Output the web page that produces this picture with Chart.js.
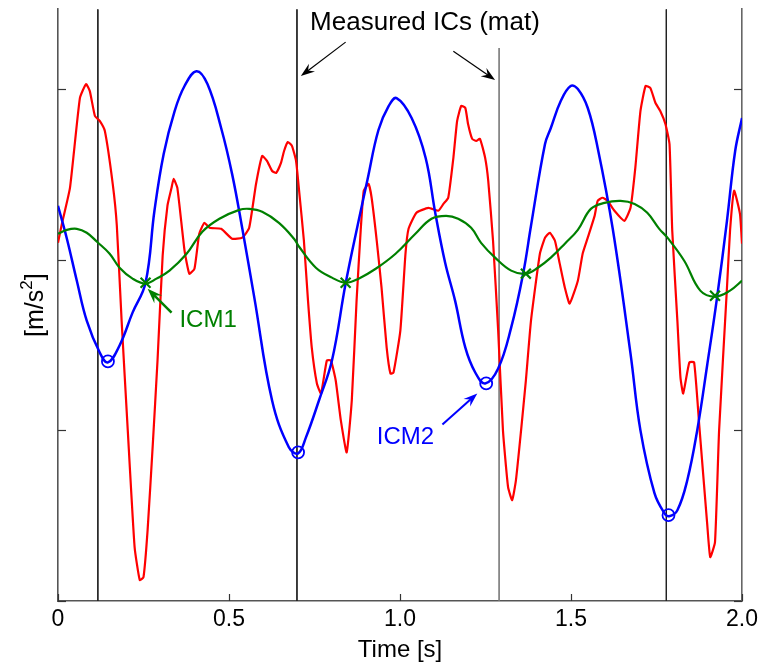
<!DOCTYPE html>
<html>
<head>
<meta charset="utf-8">
<script src="https://cdn.jsdelivr.net/npm/chart.js@4.4.1/dist/chart.umd.min.js"></script>
<style>
  html, body { margin: 0; padding: 0; background: #ffffff; }
  #c { display: block; }
</style>
</head>
<body>
<canvas id="c" width="763" height="666"></canvas>
<script>
// ---------- data (time [s], acceleration) ----------
const xTicks = [0, 0.5, 1.0, 1.5, 2.0];
const xTickLabels = ['0', '0.5', '1.0', '1.5', '2.0'];
const yTicks = [-2, -1, 0, 1];
const yMin = -2, yMax = 1.468;

const redSeries = [[0.000,0.099],[0.012,0.216],[0.035,0.421],[0.064,0.947],[0.082,1.029],[0.093,0.988],[0.108,0.842],[0.122,0.813],[0.137,0.754],[0.160,0.444],[0.172,0.199],[0.186,-0.357],[0.204,-1.000],[0.224,-1.684],[0.239,-1.877],[0.250,-1.860],[0.262,-1.585],[0.277,-1.088],[0.291,-0.591],[0.306,0.023],[0.320,0.316],[0.332,0.421],[0.338,0.474],[0.349,0.421],[0.370,0.053],[0.384,-0.082],[0.399,-0.053],[0.413,0.152],[0.428,0.216],[0.443,0.187],[0.477,0.181],[0.509,0.123],[0.539,0.129],[0.559,0.187],[0.579,0.444],[0.597,0.608],[0.611,0.579],[0.626,0.520],[0.638,0.509],[0.652,0.567],[0.661,0.637],[0.672,0.690],[0.684,0.667],[0.696,0.579],[0.705,0.404],[0.719,0.111],[0.731,-0.240],[0.742,-0.515],[0.757,-0.725],[0.769,-0.784],[0.786,-0.591],[0.798,-0.591],[0.812,-0.708],[0.827,-0.942],[0.844,-1.129],[0.859,-0.825],[0.873,-0.240],[0.885,0.170],[0.894,0.404],[0.908,0.444],[0.917,0.363],[0.932,0.111],[0.946,-0.164],[0.961,-0.515],[0.972,-0.667],[0.981,-0.661],[1.001,-0.415],[1.016,0.035],[1.025,0.181],[1.048,0.275],[1.083,0.304],[1.112,0.287],[1.127,0.327],[1.141,0.363],[1.156,0.596],[1.167,0.813],[1.179,0.901],[1.191,0.889],[1.199,0.795],[1.211,0.708],[1.223,0.696],[1.234,0.708],[1.249,0.596],[1.258,0.462],[1.272,0.111],[1.287,-0.415],[1.301,-1.000],[1.316,-1.333],[1.328,-1.409],[1.339,-1.292],[1.354,-1.000],[1.368,-0.708],[1.383,-0.357],[1.409,0.035],[1.424,0.129],[1.438,0.158],[1.453,0.111],[1.467,-0.023],[1.482,-0.164],[1.496,-0.257],[1.520,-0.123],[1.534,0.035],[1.549,0.129],[1.569,0.257],[1.578,0.345],[1.592,0.363],[1.607,0.345],[1.627,0.287],[1.656,0.228],[1.674,0.304],[1.688,0.538],[1.703,0.871],[1.718,1.018],[1.732,1.006],[1.747,0.918],[1.761,0.871],[1.776,0.795],[1.788,0.678],[1.796,0.170],[1.811,-0.357],[1.820,-0.690],[1.828,-0.784],[1.846,-0.602],[1.860,-0.602],[1.875,-0.971],[1.898,-1.544],[1.907,-1.743],[1.921,-1.655],[1.933,-1.000],[1.956,-0.164],[1.965,0.170],[1.977,0.404],[1.994,0.269],[2.000,0.094]];

const blueSeries = [[0.000,0.316],[0.026,0.123],[0.055,-0.123],[0.084,-0.357],[0.122,-0.544],[0.146,-0.602],[0.180,-0.503],[0.218,-0.310],[0.256,-0.135],[0.282,0.287],[0.309,0.620],[0.341,0.871],[0.370,1.018],[0.405,1.105],[0.437,1.029],[0.477,0.772],[0.509,0.503],[0.539,0.181],[0.574,-0.222],[0.626,-0.825],[0.675,-1.099],[0.702,-1.135],[0.725,-1.041],[0.763,-0.825],[0.801,-0.591],[0.841,-0.140],[0.879,0.228],[0.905,0.470],[0.937,0.760],[0.967,0.901],[0.990,0.947],[1.034,0.830],[1.075,0.596],[1.103,0.275],[1.132,-0.018],[1.161,-0.240],[1.191,-0.515],[1.220,-0.661],[1.249,-0.725],[1.287,-0.637],[1.325,-0.398],[1.360,-0.082],[1.383,0.199],[1.424,0.678],[1.441,0.772],[1.470,0.930],[1.499,1.018],[1.520,1.000],[1.549,0.889],[1.578,0.655],[1.622,0.181],[1.674,-0.550],[1.703,-1.000],[1.744,-1.368],[1.773,-1.485],[1.787,-1.503],[1.811,-1.468],[1.840,-1.292],[1.869,-1.000],[1.898,-0.620],[1.927,-0.222],[1.956,0.228],[1.980,0.637],[2.000,0.830]];

const greenSeries = [[0.000,0.152],[0.026,0.175],[0.055,0.181],[0.084,0.158],[0.114,0.105],[0.151,0.035],[0.180,-0.047],[0.218,-0.111],[0.256,-0.140],[0.288,-0.111],[0.326,-0.064],[0.376,0.035],[0.422,0.164],[0.472,0.240],[0.530,0.292],[0.559,0.298],[0.597,0.281],[0.646,0.216],[0.690,0.123],[0.705,0.076],[0.754,-0.047],[0.801,-0.105],[0.841,-0.135],[0.879,-0.111],[0.929,-0.053],[0.987,0.035],[1.045,0.152],[1.092,0.240],[1.135,0.257],[1.170,0.240],[1.208,0.187],[1.237,0.099],[1.278,0.012],[1.325,-0.064],[1.368,-0.082],[1.403,-0.047],[1.441,0.012],[1.482,0.094],[1.520,0.175],[1.558,0.298],[1.598,0.333],[1.645,0.345],[1.686,0.327],[1.723,0.275],[1.758,0.181],[1.782,0.129],[1.831,-0.006],[1.878,-0.181],[1.921,-0.216],[1.965,-0.181],[2.000,-0.123]];

const icm2Points = [[0.146,-0.596],[0.702,-1.129],[1.252,-0.725],[1.785,-1.497]];
const icm1Points = [[0.256,-0.135],[0.841,-0.135],[1.368,-0.082],[1.921,-0.211]];
const measuredICs = [0.1165, 0.6987, 1.2897, 1.7787];
const measuredICTops = [yMax, yMax, 1.240, yMax];

// annotation anchors in data coordinates
const titleText = 'Measured ICs (mat)';
const titleAt = [1.073, 1.386];
const arrowsMeasured = [[[0.841,1.275],[0.710,1.076]], [[1.156,1.222],[1.278,1.053]]];
const icm1Label = ['ICM1', 0.355, -0.357];
const icm1Arrow = [[0.332,-0.310],[0.262,-0.170]];
const icm2Label = ['ICM2', 0.932, -1.041];
const icm2Arrow = [[1.124,-0.965],[1.226,-0.784]];

const RED = '#ff0000', BLUE = '#0000ff', GREEN = '#008000';
const FONT = "'Liberation Sans', Arial, Helvetica, sans-serif";

const toXY = arr => arr.map(p => ({x: p[0], y: p[1]}));

const datasets = [
  { label: 'ICM1', data: toXY(icm1Points), showLine: false, pointStyle: 'crossRot',
    pointRadius: 7, pointBorderWidth: 2.2, borderColor: GREEN, backgroundColor: GREEN },
  { label: 'ICM2', data: toXY(icm2Points), showLine: false, pointStyle: 'circle',
    pointRadius: 6, pointBorderWidth: 1.8, borderColor: BLUE, backgroundColor: 'rgba(0,0,0,0)' },
  { label: 'green', data: toXY(greenSeries), showLine: true, pointRadius: 0,
    borderColor: GREEN, borderWidth: 2.2, tension: 0.4 },
  { label: 'blue', data: toXY(blueSeries), showLine: true, pointRadius: 0,
    borderColor: BLUE, borderWidth: 2.5, tension: 0.4 },
  { label: 'red', data: toXY(redSeries), showLine: true, pointRadius: 0,
    borderColor: RED, borderWidth: 2.2, tension: 0.15 }
];
measuredICs.forEach((t, i) => {
  datasets.push({ label: 'IC' + i, data: [{x: t, y: measuredICTops[i]}, {x: t, y: yMin}],
    showLine: true, pointRadius: 0, borderColor: i === 2 ? '#777' : '#222',
    borderWidth: i === 2 ? 1.6 : 1, tension: 0 });
});

function drawArrow(ctx, x1, y1, x2, y2, color, lw, hl, hw) {
  const a = Math.atan2(y2 - y1, x2 - x1), c = Math.cos(a), s = Math.sin(a);
  ctx.strokeStyle = color; ctx.fillStyle = color; ctx.lineWidth = lw;
  ctx.beginPath(); ctx.moveTo(x1, y1); ctx.lineTo(x2 - hl * 0.6 * c, y2 - hl * 0.6 * s); ctx.stroke();
  ctx.beginPath();
  ctx.moveTo(x2, y2);
  ctx.lineTo(x2 - hl * c + hw / 2 * s, y2 - hl * s - hw / 2 * c);
  ctx.lineTo(x2 - hl * 0.65 * c, y2 - hl * 0.65 * s);
  ctx.lineTo(x2 - hl * c - hw / 2 * s, y2 - hl * s + hw / 2 * c);
  ctx.closePath(); ctx.fill();
}

const annotPlugin = {
  id: 'annot',
  afterDraw(chart) {
    const {ctx, chartArea: a} = chart;
    const X = chart.scales.x, Y = chart.scales.y;
    const px = v => X.getPixelForValue(v), py = v => Y.getPixelForValue(v);
    ctx.save();
    // inward tick marks
    ctx.strokeStyle = '#333'; ctx.lineWidth = 1.2;
    yTicks.forEach(v => {
      const y = Math.round(py(v)) + 0.5;
      ctx.beginPath(); ctx.moveTo(a.left, y); ctx.lineTo(a.left + 8, y); ctx.stroke();
      ctx.beginPath(); ctx.moveTo(a.right, y); ctx.lineTo(a.right - 8, y); ctx.stroke();
    });
    xTicks.forEach(v => {
      const x = Math.round(px(v)) + 0.5;
      ctx.beginPath(); ctx.moveTo(x, a.bottom); ctx.lineTo(x, a.bottom - 7); ctx.stroke();
    });
    // title annotation
    ctx.fillStyle = '#000'; ctx.font = '26px ' + FONT;
    ctx.textAlign = 'center'; ctx.textBaseline = 'middle';
    ctx.fillText(titleText, px(titleAt[0]), py(titleAt[1]));
    arrowsMeasured.forEach(ar => drawArrow(ctx, px(ar[0][0]), py(ar[0][1]), px(ar[1][0]), py(ar[1][1]), '#000', 1.2, 14, 10));
    // ICM labels
    ctx.textAlign = 'left'; ctx.font = '24px ' + FONT;
    ctx.fillStyle = GREEN; ctx.fillText(icm1Label[0], px(icm1Label[1]), py(icm1Label[2]));
    drawArrow(ctx, px(icm1Arrow[0][0]), py(icm1Arrow[0][1]), px(icm1Arrow[1][0]), py(icm1Arrow[1][1]), GREEN, 2.5, 15, 11);
    ctx.fillStyle = BLUE; ctx.fillText(icm2Label[0], px(icm2Label[1]), py(icm2Label[2]));
    drawArrow(ctx, px(icm2Arrow[0][0]), py(icm2Arrow[0][1]), px(icm2Arrow[1][0]), py(icm2Arrow[1][1]), BLUE, 2, 14, 10);
    // y axis label [m/s^2]
    const cy = (a.top + a.bottom) / 2;
    ctx.translate(43, cy); ctx.rotate(-Math.PI / 2);
    ctx.fillStyle = '#000'; ctx.textBaseline = 'alphabetic';
    const f1 = '25px ' + FONT, f2 = '17px ' + FONT;
    ctx.font = f1; const w1 = ctx.measureText('[m/s').width, w3 = ctx.measureText(']').width;
    ctx.font = f2; const w2 = ctx.measureText('2').width;
    let x0 = -(w1 + w2 + w3) / 2;
    ctx.font = f1; ctx.fillText('[m/s', x0, 0);
    ctx.font = f2; ctx.fillText('2', x0 + w1, -11);
    ctx.font = f1; ctx.fillText(']', x0 + w1 + w2, 0);
    ctx.restore();
  }
};

new Chart(document.getElementById('c').getContext('2d'), {
  type: 'scatter',
  data: { datasets },
  options: {
    responsive: false, animation: false, devicePixelRatio: 1,
    layout: { padding: { left: 58, right: 18, top: 8, bottom: 0 } },
    plugins: { legend: { display: false }, tooltip: { enabled: false } },
    elements: { line: { capBezierPoints: true } },
    scales: {
      x: {
        type: 'linear', position: 'bottom', min: 0, max: 2,
        afterBuildTicks: s => { s.ticks = xTicks.map(v => ({ value: v })); },
        afterFit: s => { s.height = 65; },
        grid: { display: false, drawTicks: false },
        border: { display: true, color: '#555', width: 1.6 },
        ticks: { autoSkip: false, maxRotation: 0, padding: 5, color: '#000',
          font: { family: FONT, size: 23 },
          callback: (v) => { const i = xTicks.indexOf(v); return i >= 0 ? xTickLabels[i] : ''; } },
        title: { display: true, text: 'Time [s]', color: '#000',
          font: { family: FONT, size: 24 }, padding: { top: 0, bottom: 1 } }
      },
      y: {
        type: 'linear', position: 'left', min: yMin, max: yMax,
        afterBuildTicks: s => { s.ticks = yTicks.map(v => ({ value: v })); },
        afterFit: s => { s.width = 0; },
        grid: { display: false }, ticks: { display: false },
        border: { display: true, color: '#555', width: 1.6 }
      },
      y2: {
        type: 'linear', position: 'right', min: yMin, max: yMax,
        afterFit: s => { s.width = 0; },
        grid: { display: false }, ticks: { display: false },
        border: { display: true, color: '#666', width: 1.6 }
      }
    }
  },
  plugins: [annotPlugin]
});
</script>
</body>
</html>
